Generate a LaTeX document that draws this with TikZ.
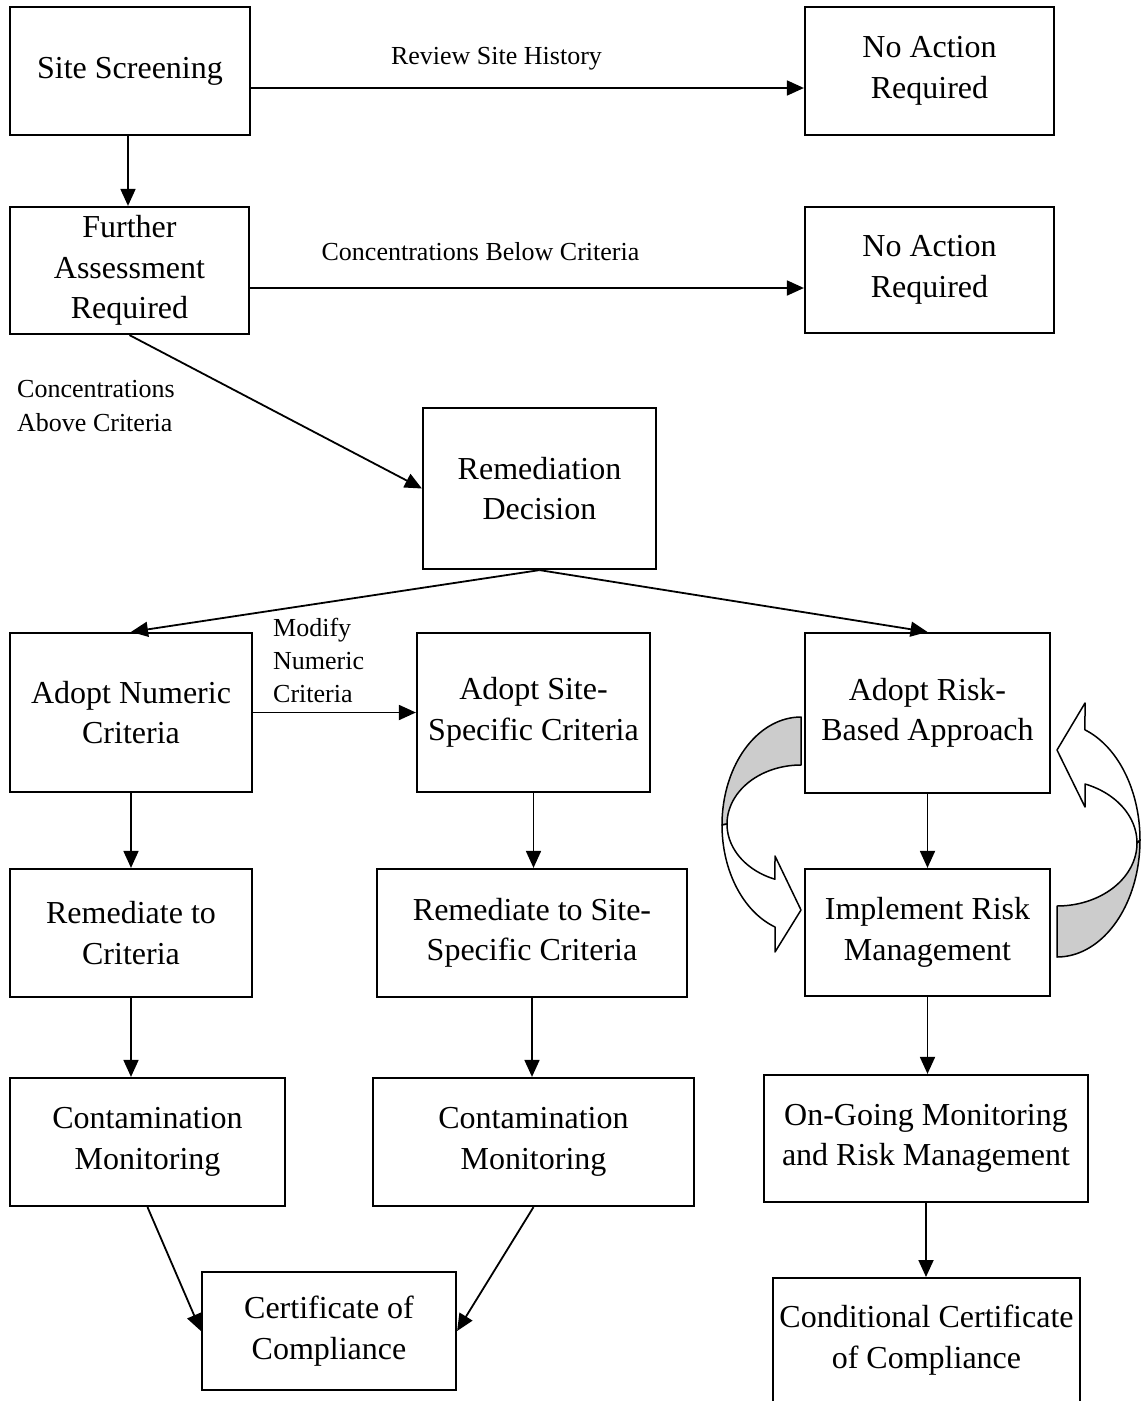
\documentclass[tikz,border=0pt]{standalone}
\usepackage{fontspec}
\setmainfont{Liberation Serif}
\usetikzlibrary{arrows.meta,calc}
\newcommand\mybigfont{\fontsize{32}{40.5}\selectfont}
\newcommand\mysmallfont{\fontsize{26}{33}\selectfont}
\begin{document}
\begin{tikzpicture}[x=1pt,y=-1pt,
  box/.style={draw, line width=2.2pt, align=center, inner sep=0pt, font=\mybigfont},
  conn/.style={line width=1.8pt, -{Triangle[length=17pt,width=15pt]}},
  lbl/.style={inner sep=0pt, font=\mysmallfont},
  band/.style={line width=1.5pt, line join=round}]
\useasboundingbox (0,0) rectangle (1141,1401);

% boxes
\node[box, minimum width=240pt, minimum height=128pt] (ss)  at (130,71) {Site Screening};
\node[box, minimum width=249pt, minimum height=128pt] (na1) at (929.5,71) {No Action\\Required};
\node[box, minimum width=239pt, minimum height=127pt] (fa)  at (129.5,270.5) {Further\\Assessment\\Required};
\node[box, minimum width=249pt, minimum height=126pt] (na2) at (929.5,270) {No Action\\Required};
\node[box, minimum width=233pt, minimum height=161pt] (rd)  at (539.5,488.5) {Remediation\\Decision};
\node[box, minimum width=242pt, minimum height=159pt] (an)  at (131,712.5) {Adopt Numeric\\Criteria};
\node[box, minimum width=233pt, minimum height=159pt] (as)  at (533.5,712.5) {Adopt Site-\\Specific Criteria};
\node[box, minimum width=245pt, minimum height=160pt] (ar)  at (927.5,713) {Adopt Risk-\\Based Approach};
\node[box, minimum width=242pt, minimum height=128pt] (rc)  at (131,933) {Remediate to\\Criteria};
\node[box, minimum width=310pt, minimum height=128pt] (rs)  at (532,933) {Remediate to Site-\\Specific Criteria};
\node[box, minimum width=245pt, minimum height=127pt] (irm) at (927.5,932.5) {Implement Risk\\Management};
\node[box, minimum width=275pt, minimum height=128pt] (cm1) at (147.5,1142) {Contamination\\Monitoring};
\node[box, minimum width=321pt, minimum height=128pt] (cm2) at (533.5,1142) {Contamination\\Monitoring};
\node[box, minimum width=324pt, minimum height=127pt] (og)  at (926,1138.5) {On-Going Monitoring\\and Risk Management};
\node[box, minimum width=254pt, minimum height=118pt] (cc)  at (329,1331) {Certificate of\\Compliance};
\node[box, minimum width=307pt, minimum height=200pt, anchor=north] (cond) at (926.5,1277) {};
\node[inner sep=0pt, align=center, font=\mybigfont] (condtext) at (926.5,1340) {Conditional Certificate\\of Compliance};

% labels
\node[lbl, anchor=base] (l1) at (496.5,64) {Review Site History};
\node[lbl, anchor=base] (l2) at (480.5,260) {Concentrations Below Criteria};
\node[lbl, anchor=base west, font=\fontsize{26}{34}\selectfont] (l3) at (17,397)
  {\begin{tabular}[t]{@{}l@{}}Concentrations\\Above Criteria\end{tabular}};
\node[lbl, anchor=base west] (l4) at (273,636)
  {\begin{tabular}[t]{@{}l@{}}Modify\\Numeric\\Criteria\end{tabular}};

% helper coordinates
\coordinate (y1) at (0,88);
\coordinate (y2) at (0,288);

% connectors
\draw[conn] (ss.east |- y1) -- (na1.west |- y1);
\draw[conn] (fa.east |- y2) -- (na2.west |- y2);
\draw[conn] ([xshift=-2pt]ss.south) -- ([xshift=-2pt]ss.south |- fa.north);
\draw[conn] (fa.south) -- (rd.west);
\draw[conn] (rd.south) -- (an.north);
\draw[conn] (rd.south) -- (ar.north);
\draw[conn] (an.east) -- (an.east -| as.west);
\draw[conn] (an.south) -- (an.south |- rc.north);
\draw[conn] (as.south) -- (as.south |- rs.north);
\draw[conn] (ar.south) -- (ar.south |- irm.north);
\draw[conn] (rc.south) -- (rc.south |- cm1.north);
\draw[conn] (rs.south) -- (rs.south |- cm2.north);
\draw[conn] (irm.south) -- (irm.south |- og.north);
\draw[conn] (og.south) -- (og.south |- cond.north);
\draw[conn] (cm1.south) -- (cc.west);
\draw[conn] (cm2.south) -- (cc.east);

% left curved block arrow
\filldraw[band, fill=gray!40] (801,717)
  -- plot[domain=90:180, samples=40] ({801+79*cos(\x)}, {825-108*sin(\x)})
  -- plot[domain=180:90, samples=40] ({801+74*cos(\x)}, {824-59*sin(\x)}) -- cycle;
\filldraw[band, fill=white]
  plot[domain=180:250.8, samples=40] ({801+79*cos(\x)}, {825-108*sin(\x)})
  -- (775,952) -- (801,910) -- (775,856)
  -- plot[domain=249.4:180, samples=40] ({801+74*cos(\x)}, {824-59*sin(\x)}) -- cycle;

% right curved block arrow
\filldraw[band, fill=gray!40]
  plot[domain=-90:0, samples=40] ({1057+83*cos(\x)}, {840-117*sin(\x)})
  -- plot[domain=0:-90, samples=40] ({1057+80*cos(\x)}, {843-63*sin(\x)}) -- cycle;
\filldraw[band, fill=white]
  plot[domain=0:70.3, samples=40] ({1057+83*cos(\x)}, {840-117*sin(\x)})
  -- (1085,703) -- (1057,750) -- (1085,807)
  -- plot[domain=69.5:0, samples=40] ({1057+80*cos(\x)}, {843-63*sin(\x)}) -- cycle;
\end{tikzpicture}
\end{document}
